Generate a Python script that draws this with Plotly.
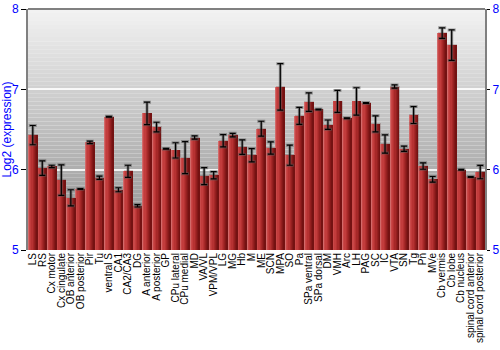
import plotly.graph_objects as go

labels = ["LS", "RS", "Cx motor", "Cx cingulate", "OB anterior", "OB posterior", "Pir", "Tu",
          "ventral S", "CA1", "CA2/CA3", "DG", "A anterior", "A posterior", "GP", "CPu lateral",
          "CPu medial", "MD", "VA/VL", "VPM/VPL", "LG", "MG", "Hb", "M", "ME", "SCN", "MPA", "SO",
          "Pa", "SPa ventral", "SPa dorsal", "DM", "VMH", "Arc", "LH", "PAG", "SC", "IC", "VTA",
          "SN", "Tg", "Pn", "MVe", "Cb vermis", "Cb lobe", "Cb nucleus", "spinal cord anterior",
          "spinal cord posterior"]

values = [6.43, 6.02, 6.04, 5.87, 5.65, 5.76, 6.34, 5.90,
          6.66, 5.75, 5.98, 5.55, 6.70, 6.53, 6.26, 6.24,
          6.15, 6.40, 5.92, 5.93, 6.36, 6.43, 6.28, 6.18, 6.51, 6.27, 7.03, 6.18,
          6.67, 6.84, 6.75, 6.56, 6.85, 6.64, 6.85, 6.83, 6.57, 6.32, 7.035,
          6.26, 6.68, 6.045, 5.88, 7.70, 7.55, 6.00, 5.91,
          5.97]

errors = [0.12, 0.09, 0.015, 0.19, 0.10, 0.005, 0.015, 0.02,
          0.005, 0.025, 0.075, 0.015, 0.14, 0.06, 0.005, 0.095,
          0.20, 0.02, 0.105, 0.045, 0.077, 0.023, 0.09, 0.083, 0.093, 0.077, 0.29, 0.125,
          0.105, 0.115, 0.005, 0.058, 0.137, 0.005, 0.17, 0.005, 0.10, 0.114, 0.02,
          0.033, 0.105, 0.04, 0.035, 0.066, 0.19, 0.005, 0.005,
          0.083]

y_ticks = [5, 6, 7, 8]

pos = list(range(len(labels)))

fig = go.Figure()

W = 0.92
# shadow behind bars
fig.add_trace(go.Bar(x=pos, y=[v + 0.01 for v in values], width=W + 0.08, offset=-W / 2,
                     marker=dict(color="rgba(60,0,0,0.18)", line=dict(width=0)),
                     hoverinfo="skip", showlegend=False))

# cylinder-like shading strips (left -> right)
strips = [
    (0.00, 0.10, "#d26a6a"),
    (0.10, 0.22, "#c94848"),
    (0.22, 0.40, "#c23c3c"),
    (0.40, 0.55, "#b63232"),
    (0.55, 0.68, "#a62828"),
    (0.68, 0.80, "#952020"),
    (0.80, 0.90, "#841818"),
    (0.90, 1.00, "#741212"),
]
for a, b, c in strips:
    fig.add_trace(go.Bar(x=pos, y=values, width=W * (b - a) + 0.002, offset=-W / 2 + W * a,
                         marker=dict(color=c, line=dict(width=0)),
                         hoverinfo="skip", showlegend=False))

# error bar halo
fig.add_trace(go.Scatter(x=pos, y=values, mode="markers", marker=dict(size=0.1, color="rgba(0,0,0,0)"),
                         error_y=dict(type="data", array=errors, color="rgba(90,90,90,0.55)",
                                      thickness=3, width=4),
                         hoverinfo="skip", showlegend=False))
# error bars
fig.add_trace(go.Scatter(x=pos, y=values, mode="markers", marker=dict(size=0.1, color="rgba(0,0,0,0)"),
                         error_y=dict(type="data", array=errors, color="#000000",
                                      thickness=1.2, width=3),
                         hoverinfo="skip", showlegend=False))

# right axis dummy trace
fig.add_trace(go.Scatter(x=[pos[0]], y=[values[0]], yaxis="y2", mode="markers",
                         marker=dict(size=0.1, color="rgba(0,0,0,0)"), hoverinfo="skip",
                         showlegend=False))

# background gradient
shapes = []
n = 60
top = (242, 242, 242)
bot = (140, 140, 140)
for i in range(n):
    t = i / (n - 1)
    col = tuple(int(round(top[k] + (bot[k] - top[k]) * t)) for k in range(3))
    shapes.append(dict(type="rect", xref="paper", yref="paper", x0=0, x1=1,
                       y0=1 - (i + 1) / n, y1=1 - i / n, fillcolor="rgb(%d,%d,%d)" % col,
                       line=dict(width=0), layer="below"))
shapes.append(dict(type="line", xref="paper", yref="paper", x0=0, x1=1, y0=1, y1=1,
                   line=dict(color="#808080", width=2)))

fig.update_layout(
    width=500, height=350,
    margin=dict(l=28, r=15, t=9, b=100),
    paper_bgcolor="white", plot_bgcolor="rgba(0,0,0,0)",
    barmode="overlay", bargap=0,
    showlegend=False,
    shapes=shapes,
    font=dict(family="Liberation Sans, Arial, sans-serif", color="black"),
    xaxis=dict(range=[-0.5, len(labels) - 0.5], tickmode="array", tickvals=pos, ticktext=labels,
               tickangle=-90, tickfont=dict(size=10, color="black"), showgrid=False,
               zeroline=False, showline=False, ticks="", ticklen=0, automargin=False),
    yaxis=dict(range=[5, 8], tickvals=y_ticks, tickfont=dict(size=12, color="#0000ff"),
               title=dict(text="Log2 (expression)", font=dict(size=12, color="#0000ff"), standoff=2),
               showgrid=True, gridcolor="rgba(255,255,255,0.85)", gridwidth=1.5,
               zeroline=False, showline=True, linecolor="#808080", linewidth=2,
               ticks="outside", ticklen=5, tickcolor="black", automargin=False),
    yaxis2=dict(range=[5, 8], tickvals=y_ticks, overlaying="y", side="right",
                tickfont=dict(size=12, color="#0000ff"), showgrid=False, zeroline=False,
                showline=True, linecolor="#808080", linewidth=2,
                ticks="outside", ticklen=3, tickcolor="black", automargin=False),
)

fig.write_html("out.html")
